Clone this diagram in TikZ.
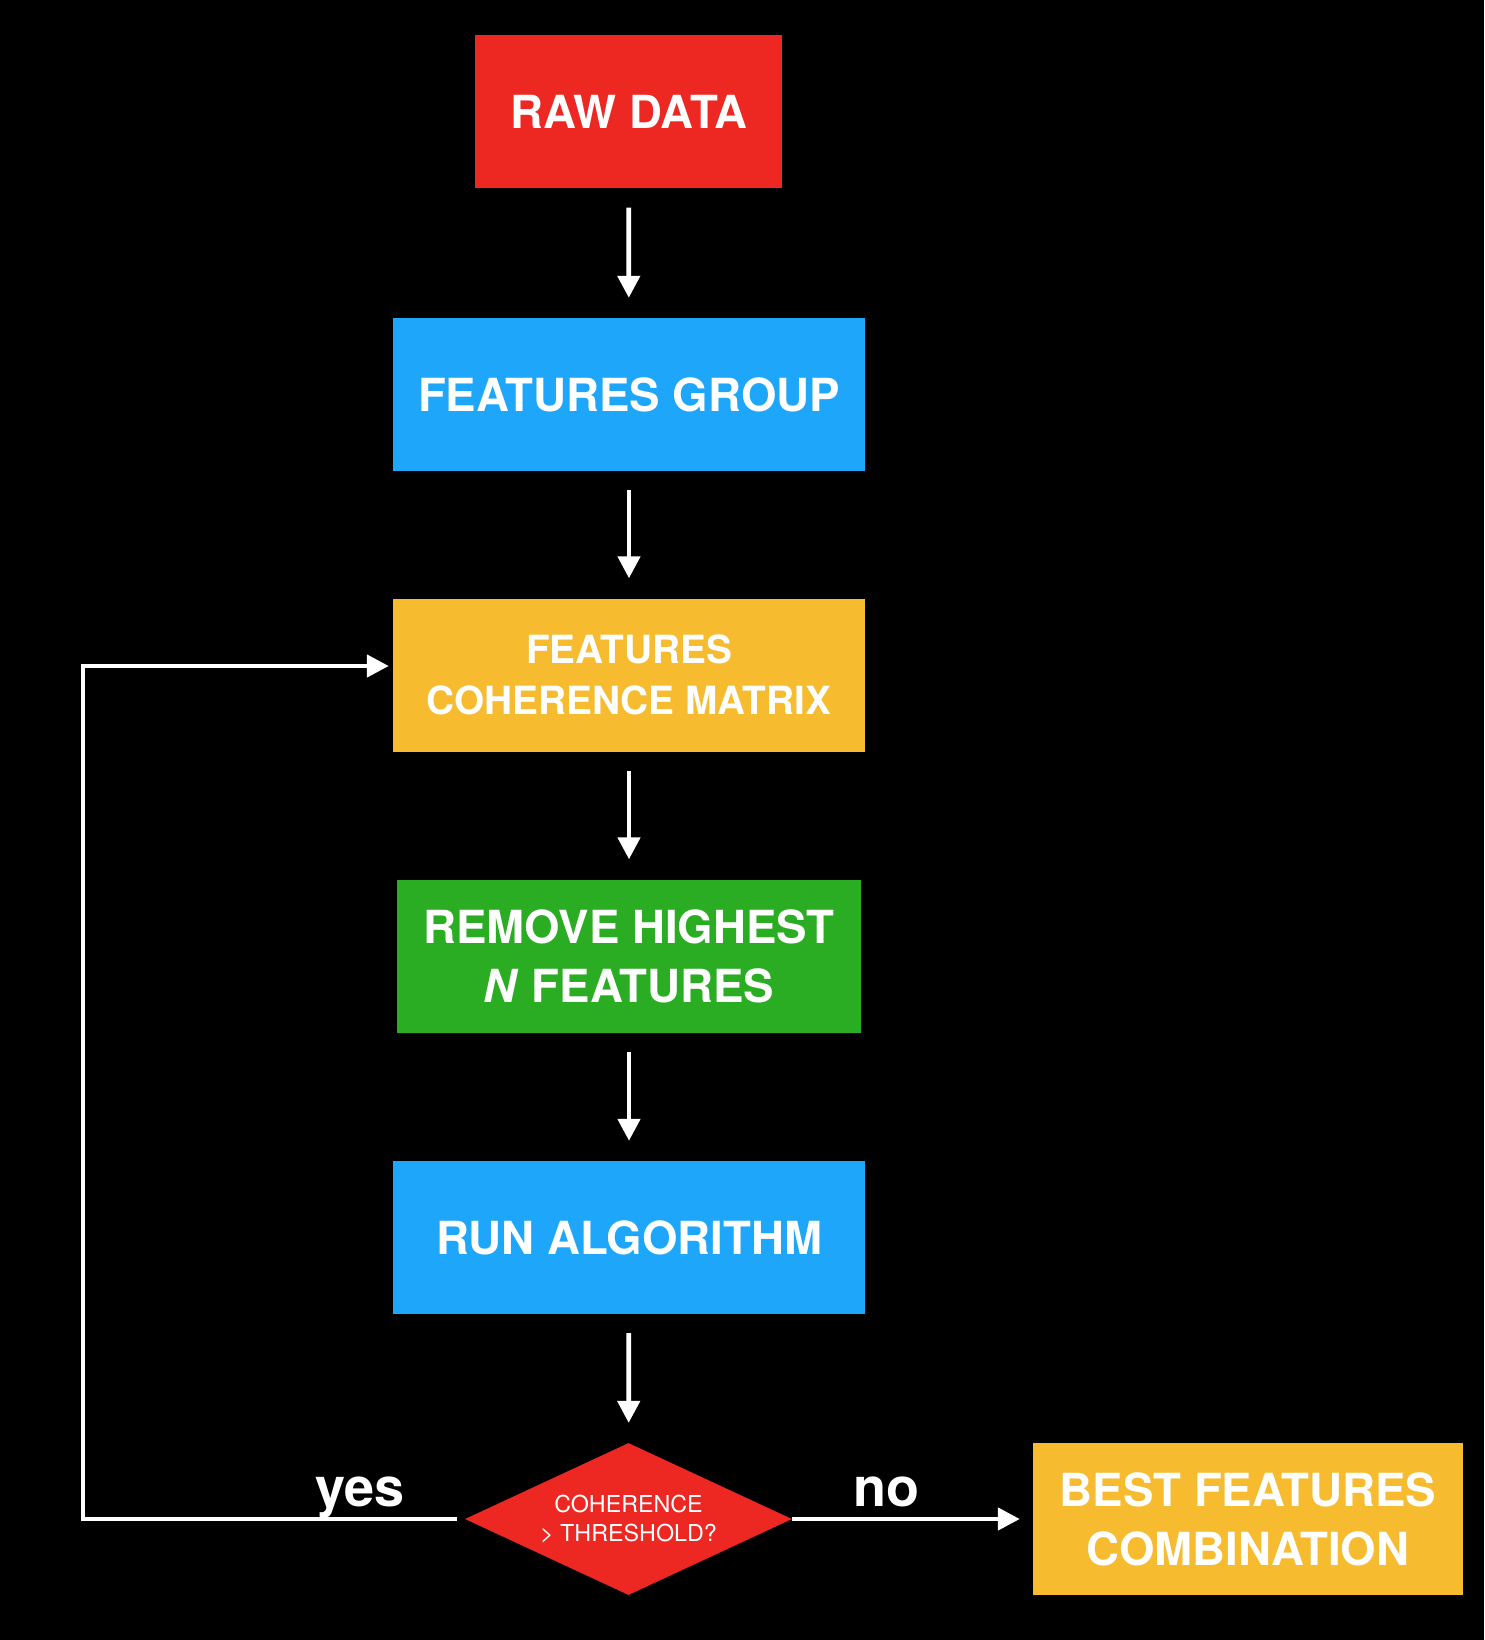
\documentclass[tikz,border=0pt]{standalone}
\usepackage{fontspec}
\setmainfont{TeX Gyre Heros}
\usetikzlibrary{shapes.geometric,arrows.meta}
\definecolor{boxred}{RGB}{237,39,33}
\definecolor{boxblue}{RGB}{29,166,250}
\definecolor{boxyellow}{RGB}{246,187,47}
\definecolor{boxgreen}{RGB}{42,173,34}

\begin{document}
\begin{tikzpicture}[x=1pt,y=-1pt,
    box/.style={minimum width=472pt,minimum height=153pt,inner sep=0pt,text=white,align=center,
        font=\fontsize{45.6}{59}\selectfont\bfseries},
    question/.style={diamond,fill=boxred,minimum width=327pt,minimum height=152pt,aspect=2.15,
        inner sep=0pt,text=white,align=center,font=\fontsize{23.3}{29}\selectfont},
    flow/.style={draw=white,line width=4.7pt,-{Triangle[width=22pt,length=22pt]}},
    answer/.style={text=white,inner sep=0pt,font=\fontsize{54}{60}\selectfont\bfseries}]
        \fill[black] (0,0) rectangle (1484,1640);
        % boxes
        \node[box,fill=boxred,minimum width=307pt] (raw) at (628.5,112) {RAW DATA};
        \node[box,fill=boxblue] (group) at (629,394.5) {FEATURES GROUP};
        \node[box,fill=boxyellow,font=\fontsize{38.8}{51}\selectfont\bfseries] (matrix) at (629,675) {FEATURES\\COHERENCE MATRIX};
        \node[box,fill=boxgreen,minimum width=464pt] (remove) at (629,956) {REMOVE HIGHEST\\\textit{N} FEATURES};
        \node[box,fill=boxblue] (run) at (629,1237.5) {RUN ALGORITHM};
        \node[question] (check) at (628.5,1519) {COHERENCE\\> THRESHOLD?};
        \node[box,fill=boxyellow,minimum width=430pt,minimum height=152pt] (best) at (1248,1519) {BEST FEATURES\\COMBINATION};
        % arrows
        \draw[flow,shorten <=19pt,shorten >=20pt] (raw) -- (group);
        \draw[flow,shorten <=19pt,shorten >=20pt] (group) -- (matrix);
        \draw[flow,shorten <=19pt,shorten >=20pt] (matrix) -- (remove);
        \draw[flow,shorten <=19pt,shorten >=20pt] (remove) -- (run);
        \draw[flow,shorten <=19pt,shorten >=20pt] (run) -- (check);
        \coordinate (corner) at (83,666);
        \draw[flow,shorten <=8pt,shorten >=4pt] (check.west) -| (corner) -- (corner -| matrix.west);
        \draw[flow,shorten >=13pt] (check.east) -- (best.west);
        \node[answer,anchor=base] (yes) at (360,1506) {yes};
        \node[answer,anchor=base] (no) at (886,1506) {no};
    \end{tikzpicture}
\end{document}
